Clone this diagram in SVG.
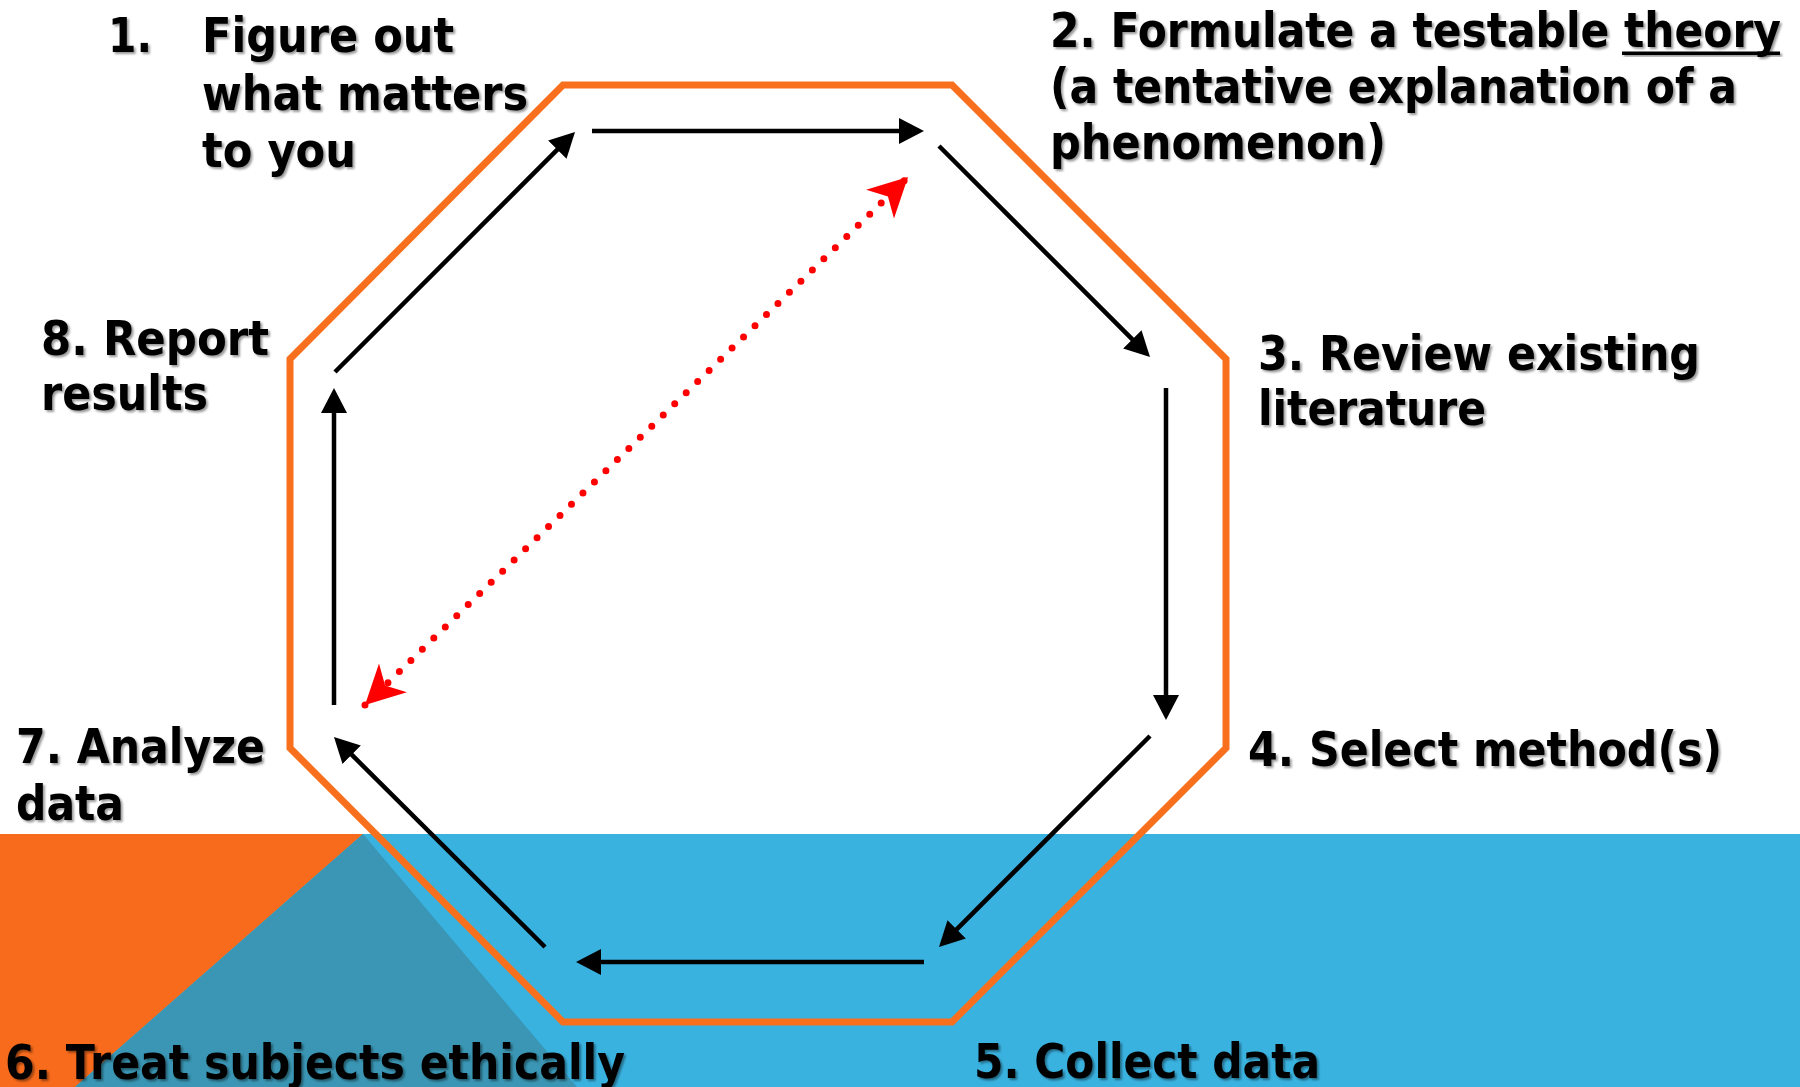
<svg xmlns="http://www.w3.org/2000/svg" width="1800" height="1087" viewBox="0 0 1800 1087">
  <defs>
    <style>
      .label { font-family: "DejaVu Sans", Verdana, sans-serif; font-weight: bold; font-size: 48px; fill: #000; filter: url(#shadow); }
      .rule { fill: #000; filter: url(#shadow); }
      .ring { fill: none; stroke: #F8701E; stroke-width: 7; stroke-linejoin: miter; }
      .step { fill: none; stroke: #000; stroke-width: 4.5; marker-end: url(#head); }
      .link { fill: none; stroke: #FF0000; stroke-width: 7; stroke-linecap: round; stroke-dasharray: 0 16; marker-start: url(#stealth-start); marker-end: url(#stealth); }
    </style>
    <filter id="shadow" x="-5%" y="-20%" width="110%" height="150%">
      <feDropShadow dx="2" dy="2" stdDeviation="1.2" flood-color="#000" flood-opacity="0.4"/>
    </filter>
    <!-- solid triangular head for the cycle arrows -->
    <marker id="head" markerUnits="userSpaceOnUse" viewBox="0 0 25 26" refX="5" refY="13" markerWidth="25" markerHeight="26" orient="auto">
      <path d="M0,0 L25,13 L0,26 z" fill="#000"/>
    </marker>
    <!-- notched heads for the dotted feedback link -->
    <marker id="stealth" markerUnits="userSpaceOnUse" viewBox="-40 -22 42 44" refX="0" refY="0" markerWidth="42" markerHeight="44" orient="auto">
      <path d="M0,0 L-39,-20 L-28,0 L-39,20 z" fill="#FF0000"/>
    </marker>
    <marker id="stealth-start" markerUnits="userSpaceOnUse" viewBox="-40 -22 42 44" refX="0" refY="0" markerWidth="42" markerHeight="44" orient="auto-start-reverse">
      <path d="M0,0 L-39,-20 L-28,0 L-39,20 z" fill="#FF0000"/>
    </marker>
  </defs>

  <!-- background -->
  <rect x="0" y="0" width="1800" height="1087" fill="#FFFFFF"/>
  <rect x="0" y="834" width="1800" height="253" fill="#3AB2E0"/>
  <polygon points="0,834 363,834 75,1087 0,1087" fill="#F86B1C"/>
  <polygon points="363,834 75,1087 577,1087" fill="#3A96B4"/>

  <!-- octagon frame -->
  <g id="frame">
    <polygon class="ring" points="563,85 952,85 1226,359 1226,748 952,1022 563,1022 290,748 290,359"/>
  </g>

  <!-- cycle arrows and feedback link -->
  <g id="connectors">
    <path class="step" d="M592,131 L904,131"/>
    <path class="step" d="M939,146 L1135.86,342.86"/>
    <path class="step" d="M1166,388 L1166,700"/>
    <path class="step" d="M1150,736 L953.14,932.86"/>
    <path class="step" d="M924,962 L596,962"/>
    <path class="step" d="M545,947 L348.14,751.14"/>
    <path class="step" d="M334,705 L334,408"/>
    <path class="step" d="M335,372 L560.86,146.14"/>
    <path class="link" d="M365,705 L908,177"/>
  </g>

  <!-- step labels -->
  <g id="step1">
    <text class="label" x="108" y="52" textLength="44" lengthAdjust="spacingAndGlyphs">1.</text>
    <text class="label" x="202" y="52" textLength="252" lengthAdjust="spacingAndGlyphs">Figure out</text>
    <text class="label" x="202" y="110" textLength="326" lengthAdjust="spacingAndGlyphs">what matters</text>
    <text class="label" x="202" y="167" textLength="154" lengthAdjust="spacingAndGlyphs">to you</text>
  </g>
  <g id="step2">
    <text class="label" x="1050" y="47" textLength="731" lengthAdjust="spacingAndGlyphs">2. Formulate a testable theory</text>
    <!-- underline beneath "theory" -->
    <rect class="rule" x="1622" y="51.5" width="158" height="3.5"/>
    <text class="label" x="1050" y="103" textLength="687" lengthAdjust="spacingAndGlyphs">(a tentative explanation of a</text>
    <text class="label" x="1050" y="159" textLength="336" lengthAdjust="spacingAndGlyphs">phenomenon)</text>
  </g>
  <g id="step3">
    <text class="label" x="1258" y="370" textLength="442" lengthAdjust="spacingAndGlyphs">3. Review existing</text>
    <text class="label" x="1258" y="425" textLength="228" lengthAdjust="spacingAndGlyphs">literature</text>
  </g>
  <g id="step4">
    <text class="label" x="1248" y="766" textLength="474" lengthAdjust="spacingAndGlyphs">4. Select method(s)</text>
  </g>
  <g id="step5">
    <text class="label" x="974" y="1078" textLength="346" lengthAdjust="spacingAndGlyphs">5. Collect data</text>
  </g>
  <g id="step6">
    <text class="label" x="5" y="1079" textLength="620" lengthAdjust="spacingAndGlyphs">6. Treat subjects ethically</text>
  </g>
  <g id="step7">
    <text class="label" x="16" y="763" textLength="249" lengthAdjust="spacingAndGlyphs">7. Analyze</text>
    <text class="label" x="16" y="820" textLength="108" lengthAdjust="spacingAndGlyphs">data</text>
  </g>
  <g id="step8">
    <text class="label" x="41" y="355" textLength="228" lengthAdjust="spacingAndGlyphs">8. Report</text>
    <text class="label" x="41" y="410" textLength="167" lengthAdjust="spacingAndGlyphs">results</text>
  </g>
</svg>
